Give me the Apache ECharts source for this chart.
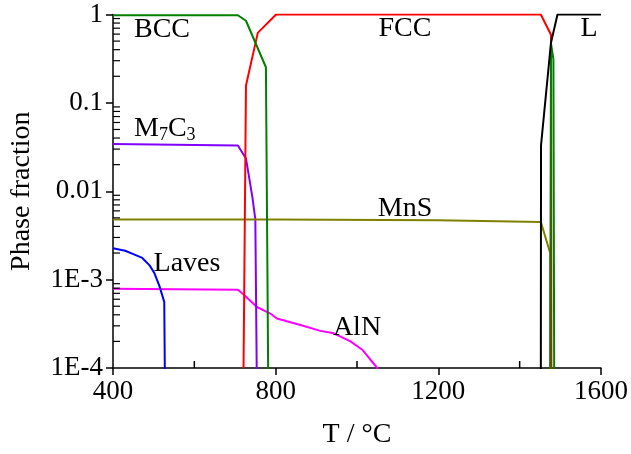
<!DOCTYPE html>
<html>
<head>
<meta charset="utf-8">
<script src="https://cdn.jsdelivr.net/npm/echarts@6/dist/echarts.min.js"></script>
<style>
  html, body { margin: 0; padding: 0; background: #fff; }
  #chart { width: 631px; height: 454px; }
</style>
</head>
<body>
<div id="chart"></div>
<script>
// phase fractions: [T (°C), fraction]
const bccLow = [[400, 0.98], [707, 0.98], [727, 0.85], [776, 0.253], [782, 0.00005]];
const bccHigh = [[1475, 0.00005], [1477, 0.47], [1483, 0.31], [1485, 0.00005]];
const fcc = [[721, 0.0001], [727, 0.157], [756, 0.62], [801, 1.0], [1452, 1.0], [1477, 0.59], [1478, 0.00005]];
const liquid = [[1452, 0.00005], [1452.5, 0.033], [1477, 0.48], [1493, 1.0], [1600, 1.0]];
const mns = [[400, 0.0048], [800, 0.0048], [1200, 0.0047], [1452, 0.0045], [1475, 0.0020], [1476, 0.00005]];
const m7c3 = [[400, 0.0343], [707, 0.033], [727, 0.0235], [743, 0.0084], [750, 0.0048], [754, 0.00005]];
const laves = [[400, 0.00226], [430, 0.00212], [450, 0.00194], [472, 0.00176], [490, 0.00145], [502, 0.00118], [514, 0.00085], [526, 0.00056], [528, 0.00005]];
const aln = [[400, 0.000787], [707, 0.000767], [721, 0.00068], [754, 0.00049], [787, 0.000413], [803, 0.000363],
  [861, 0.000306], [910, 0.000263], [943, 0.000247], [984, 0.0002], [1013, 0.000161], [1033, 0.000124], [1050, 0.0001], [1051, 0.00009]];

const xTicks = [400, 800, 1200, 1600];
const xMinor = [600, 1000, 1400];
const yTickLabels = { '-4': '1E-4', '-3': '1E-3', '-2': '0.01', '-1': '0.1', '0': '1' };
const minorSteps = [2, 3, 4, 5, 6, 7, 8, 9];
const decades = [0.0001, 0.001, 0.01, 0.1];

const FONT = 'Liberation Serif';

const chart = echarts.init(document.getElementById('chart'));

function phase(name, data, color) {
  return {
    name: name,
    type: 'line',
    data: data,
    showSymbol: false,
    symbol: 'none',
    clip: true,
    lineStyle: { color: color, width: 2 },
    itemStyle: { color: color },
    z: 3
  };
}

function label(text, x, y) {
  return {
    type: 'text',
    x: x,
    y: y,
    style: {
      text: text,
      font: '28px "' + FONT + '"',
      fill: '#000',
      align: 'center',
      verticalAlign: 'middle'
    },
    z: 10
  };
}

const labels = [
  label('BCC', 162, 30),
  label('FCC', 405, 29),
  label('L', 589, 29),
  label('Laves', 187, 264),
  label('MnS', 405, 209),
  label('AlN', 357, 328),
  {
    type: 'text',
    x: 134,
    y: 129,
    style: {
      text: '{m|M}{s|7}{m|C}{s|3}',
      align: 'left',
      verticalAlign: 'middle',
      rich: {
        m: { fontFamily: FONT, fontSize: 28, lineHeight: 30, fill: '#000', color: '#000' },
        s: { fontFamily: FONT, fontSize: 18, lineHeight: 14, verticalAlign: 'bottom', fill: '#000', color: '#000' }
      }
    },
    z: 10
  }
];

chart.setOption({
  animation: false,
  backgroundColor: '#fff',
  grid: { left: 113, right: 30, top: 14.5, bottom: 82 },
  xAxis: {
    type: 'value',
    min: xTicks[0],
    max: xTicks[xTicks.length - 1],
    interval: 400,
    name: 'T / °C',
    nameLocation: 'middle',
    nameGap: 53,
    nameTextStyle: { fontFamily: FONT, fontSize: 28, color: '#000' },
    axisLine: { show: true, lineStyle: { color: '#000', width: 1.5 } },
    axisTick: { show: true, inside: false, length: 7, lineStyle: { color: '#000', width: 1.5 } },
    axisLabel: { fontFamily: FONT, fontSize: 27, color: '#000', margin: 10, formatter: v => String(v) },
    splitLine: { show: false }
  },
  yAxis: {
    type: 'log',
    logBase: 10,
    min: 0.0001,
    max: 1,
    interval: 1,
    name: 'Phase fraction',
    nameLocation: 'middle',
    nameGap: 77,
    nameTextStyle: { fontFamily: FONT, fontSize: 28, color: '#000' },
    axisLine: { show: true, lineStyle: { color: '#000', width: 1.5 } },
    axisTick: { show: true, inside: false, length: 7, lineStyle: { color: '#000', width: 1.5 } },
    axisLabel: {
      fontFamily: FONT, fontSize: 27, color: '#000', margin: 10,
      formatter: v => yTickLabels[String(Math.round(Math.log10(v)))] || ''
    },
    splitLine: { show: false }
  },
  series: [
    phase('AlN', aln, '#ff00ff'),
    phase('Laves', laves, '#0000ff'),
    phase('M7C3', m7c3, '#8000ff'),
    phase('MnS', mns, '#808000'),
    phase('FCC', fcc, '#ff0000'),
    phase('BCC', bccLow, '#008000'),
    phase('BCC', bccHigh, '#008000'),
    phase('L', liquid, '#000000')
  ]
});

// minor ticks (inside), placed through the chart's own scales
const ticks = [];
decades.forEach(d => minorSteps.forEach(k => {
  const p = chart.convertToPixel({ gridIndex: 0 }, [xTicks[0], k * d]);
  ticks.push({
    type: 'line',
    shape: { x1: p[0], y1: p[1], x2: p[0] + 7, y2: p[1] },
    style: { stroke: '#000', lineWidth: 1.2 },
    silent: true,
    z: 10
  });
}));
xMinor.forEach(x => {
  const p = chart.convertToPixel({ gridIndex: 0 }, [x, 0.0001]);
  ticks.push({
    type: 'line',
    shape: { x1: p[0], y1: p[1], x2: p[0], y2: p[1] - 7 },
    style: { stroke: '#000', lineWidth: 1.5 },
    silent: true,
    z: 10
  });
});

chart.setOption({ graphic: labels.concat(ticks) });
</script>
</body>
</html>
